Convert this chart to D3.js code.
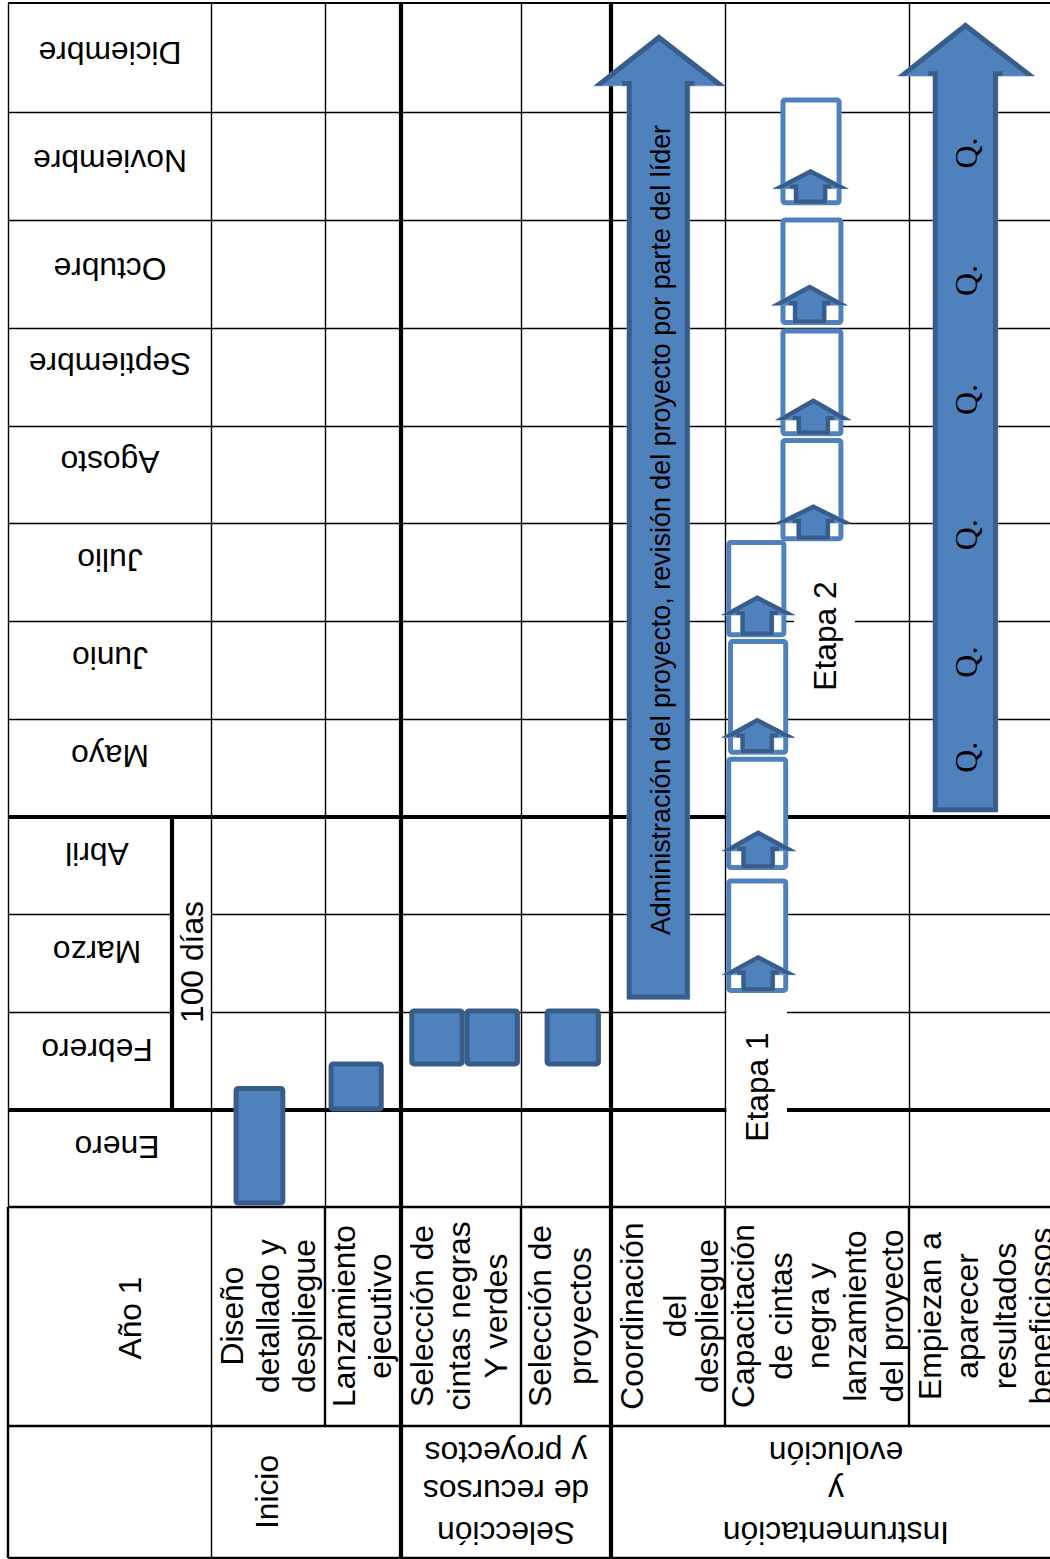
<!DOCTYPE html>
<html lang="es">
<head>
<meta charset="utf-8">
<title>Cronograma de despliegue - Año 1</title>
<script src="https://cdn.jsdelivr.net/npm/d3@7/dist/d3.min.js"></script>
<style>
  html, body { margin: 0; padding: 0; background: #fff; }
  svg { display: block; }
  text { font-family: "Liberation Sans", Arial, sans-serif; fill: #000; }
</style>
</head>
<body>
<script>
// --- Schedule content ---------------------------------------------------
const months = ["Enero", "Febrero", "Marzo", "Abril", "Mayo", "Junio", "Julio",
  "Agosto", "Septiembre", "Octubre", "Noviembre", "Diciembre"];
const yearLabel = "Año 1";
const hundredDays = "100 días";

const phaseLines = [
  ["Inicio"],
  ["Selección", "de recursos", "y proyectos"],
  ["Instrumentación", "y", "evolución"]
];
const activityLines = [
  ["Diseño", "detallado y", "despliegue"],
  ["Lanzamiento", "ejecutivo"],
  ["Selección de", "cintas negras", "Y verdes"],
  ["Selección de", "proyectos"],
  ["Coordinación", "del", "despliegue"],
  ["Capacitación", "de cintas", "negra y", "lanzamiento", "del proyecto"],
  ["Empiezan a", "aparecer", "resultados", "beneficiosos"]
];

// Solid activities: lane range in column units, start and end in month units
const solidLaneFrom = [0.22, 1.08, 2.09, 2.55, 3.29];
const solidLaneTo   = [0.63, 1.74, 2.51, 2.97, 3.86];
const solidStart    = [0.04, 1.01, 1.47, 1.47, 1.47];
const solidEnd      = [1.22, 1.47, 2.01, 2.01, 2.01];

// Long block arrows: shaft, wings and tip in column units, months along the run
const longArrowNames = ["Administración del proyecto, revisión del proyecto por parte del líder", ""];
const longShaftFrom = [4.14, 6.17];
const longShaftTo   = [4.69, 6.63];
const longWingFrom  = [3.81, 5.94];
const longWingTo    = [5.00, 6.89];
const longTipLane   = [4.42, 6.40];
const longStart     = [2.13, 4.05];
const longBase      = [11.24, 11.33];
const longTip       = [11.71, 11.82];

// Training sessions: hollow frames with a small house-shaped arrow at the foot
const frameLaneFrom = [5.02, 5.02, 5.03, 5.02, 5.315, 5.315, 5.315, 5.315];
const frameLaneTo   = [5.33, 5.33, 5.33, 5.32, 5.63, 5.63, 5.63, 5.62];
const frameStart    = [2.22, 3.48, 4.66, 5.86, 6.84, 7.92, 9.05, 10.16];
const frameEnd      = [3.34, 4.59, 5.79, 6.80, 7.85, 8.97, 10.0, 11.11];
const houseLane     = [5.18, 5.18, 5.175, 5.175, 5.48, 5.48, 5.46, 5.465];
const houseBase     = [2.38, 3.65, 4.81, 6.06, 7.0, 8.06, 9.21, 10.29];
const houseTip      = [2.58, 3.86, 5.01, 6.26, 7.19, 8.28, 9.40, 10.47];

const stageLabels = ["Etapa 1", "Etapa 2"];
const qualityMark = "Q.";
const qualityMonths = [4.61, 5.58, 6.88, 8.27, 9.44, 10.62];

// --- Page geometry ------------------------------------------------------
const width = 1050, height = 1559;
const monthEdges = [1207, 1110, 1012, 914, 817, 719, 621, 523, 426, 328, 220, 112, 3];
const columnEdges = [211, 325, 401, 521, 611, 725, 909, 1050];
const leftEdge = 8, yearRule = 172, headerBottom = 1426, pageBottom = 1558;

const y = d3.scaleLinear().domain(d3.range(13)).range(monthEdges);
const x = d3.scaleLinear().domain(d3.range(8)).range(columnEdges);

const blue = "#4f81bd", darkBlue = "#385d8a", paleEdge = "#7d9fcb";
const thin = 1.4, medium = 2.4, thick = 4.2;

const svg = d3.select("body").append("svg")
  .attr("width", width).attr("height", height)
  .attr("viewBox", [0, 0, width, height]);

// --- Grid ---------------------------------------------------------------
const grid = svg.append("g").attr("stroke", "#000").attr("fill", "none");
const crisp = w => (w === thin ? 0.5 : 0);
const hLine = (py, a, b, w) => grid.append("line")
  .attr("x1", a).attr("x2", b)
  .attr("y1", py + crisp(w)).attr("y2", py + crisp(w)).attr("stroke-width", w);
const vLine = (px, a, b, w) => grid.append("line")
  .attr("x1", px + crisp(w)).attr("x2", px + crisp(w))
  .attr("y1", a).attr("y2", b).attr("stroke-width", w);

[5, 6, 7, 8, 9, 10, 11].forEach(m => hLine(y(m), leftEdge, width, thin));
[2, 3].forEach(m => { hLine(y(m), leftEdge, yearRule, thin); hLine(y(m), x(0), width, thin); });
[1, 4].forEach(m => hLine(y(m), leftEdge, width, thick));
hLine(y(12), leftEdge, width, medium - 0.6);
hLine(y(0), leftEdge, width, medium);
hLine(headerBottom, leftEdge, width, medium);
hLine(pageBottom, leftEdge, width, medium);

vLine(leftEdge, y(12), y(0), thin);
vLine(leftEdge, y(0), pageBottom, medium);
vLine(yearRule, y(4), y(1), thick);
vLine(x(0), y(12), pageBottom, thin);
[1, 3, 5, 6].forEach(c => {
  vLine(x(c), y(12), y(0), thin);
  vLine(x(c), y(0), headerBottom, medium);
});
[2, 4].forEach(c => vLine(x(c), y(12), pageBottom, thick));

// White label plates that interrupt the grid
const plates = svg.append("g").attr("fill", "#fff");
plates.append("rect").attr("x", 726.5).attr("y", 1000).attr("width", 60.5).attr("height", 205);
plates.append("rect").attr("x", 794).attr("y", 560).attr("width", 61).attr("height", 150);

// --- Solid activities ---------------------------------------------------
svg.append("g").selectAll("rect")
  .data(d3.range(solidStart.length))
  .join("rect")
  .attr("x", i => x(solidLaneFrom[i]))
  .attr("width", i => x(solidLaneTo[i]) - x(solidLaneFrom[i]))
  .attr("y", i => y(solidEnd[i]))
  .attr("height", i => y(solidStart[i]) - y(solidEnd[i]))
  .attr("rx", 2)
  .attr("fill", blue).attr("stroke", darkBlue).attr("stroke-width", 5);

// Block arrow whose dark outline sits inside the silhouette and skips the wing undersides
function blockArrow(parent, id, a, sw) {
  const outline = [
    [a.l, a.bottom], [a.l, a.base], [a.wl, a.base], [a.tipX, a.tipY],
    [a.wr, a.base], [a.r, a.base], [a.r, a.bottom]
  ];
  const line = d3.line();
  parent.append("clipPath").attr("id", id).append("path").attr("d", line(outline) + "Z");
  parent.append("path").attr("d", line(outline) + "Z")
    .attr("fill", blue).attr("stroke", paleEdge).attr("stroke-width", 0.8);
  const ink = parent.append("g").attr("clip-path", `url(#${id})`)
    .attr("fill", "none").attr("stroke", darkBlue).attr("stroke-width", sw * 2);
  ink.append("path").attr("d", line([[a.wl, a.base], [a.tipX, a.tipY], [a.wr, a.base]]));
  ink.append("path").attr("d", line([
    [a.l, a.base - sw], [a.l, a.bottom], [a.r, a.bottom], [a.r, a.base - sw]
  ]));
}

// --- Long arrows --------------------------------------------------------
const longLayer = svg.append("g");
d3.range(longStart.length).forEach(i => blockArrow(longLayer, `long-${i}`, {
  l: x(longShaftFrom[i]), r: x(longShaftTo[i]),
  wl: x(longWingFrom[i]), wr: x(longWingTo[i]),
  tipX: x(longTipLane[i]), tipY: y(longTip[i]),
  base: y(longBase[i]), bottom: y(longStart[i])
}, 4.8));

// --- Training frames ----------------------------------------------------
svg.append("g").selectAll("rect")
  .data(d3.range(frameStart.length))
  .join("rect")
  .attr("x", i => x(frameLaneFrom[i]))
  .attr("width", i => x(frameLaneTo[i]) - x(frameLaneFrom[i]))
  .attr("y", i => y(frameEnd[i]))
  .attr("height", i => y(frameStart[i]) - y(frameEnd[i]))
  .attr("rx", 2)
  .attr("fill", "#fff").attr("stroke", blue).attr("stroke-width", 5);

const houseLayer = svg.append("g");
const houseHalfWing = 0.205, houseHalfShaft = 0.09;
d3.range(houseTip.length).forEach(i => blockArrow(houseLayer, `house-${i}`, {
  l: x(houseLane[i] - houseHalfShaft), r: x(houseLane[i] + houseHalfShaft),
  wl: x(houseLane[i] - houseHalfWing), wr: x(houseLane[i] + houseHalfWing),
  tipX: x(houseLane[i]), tipY: y(houseTip[i]),
  base: y(houseBase[i]), bottom: y(frameStart[i]) + 1
}, 4.2));

// --- Text ---------------------------------------------------------------
const textLayer = svg.append("g");
function label(str, px, py, angle, size, family) {
  const t = textLayer.append("text")
    .attr("transform", `translate(${px},${py}) rotate(${angle})`)
    .attr("text-anchor", "middle")
    .attr("dy", "0.36em")
    .attr("font-size", size)
    .text(str);
  if (family) t.style("font-family", family);
  return t;
}

const fontSize = 31.8;

// Month names read upside down
const monthLabelX = [117, 97, 97, 97, 110, 110, 110, 110, 110, 110, 110, 110];
const monthLabelY = [1147, 1050, 952, 854, 756, 658, 560, 462, 364, 269, 161, 53];
months.forEach((m, i) => label(m, monthLabelX[i], monthLabelY[i], 180, fontSize));

label(yearLabel, 130, 1318, -90, fontSize);
label(hundredDays, 192, 962, -90, fontSize);

const activityLineX = [
  [232, 268, 304], [344, 380], [422, 459, 496], [540, 580],
  [632, 675, 707], [743, 781, 818, 855, 892], [929.5, 967, 1005, 1041]
];
activityLines.forEach((lines, c) => lines.forEach((s, j) =>
  label(s, activityLineX[c][j], 1316, -90, fontSize)));

label(phaseLines[0][0], 267, 1492, -90, fontSize);
const phaseLineY = [1533, 1491, 1453];
phaseLines[1].forEach((s, j) => label(s, 506, phaseLineY[j], 180, fontSize));
phaseLines[2].forEach((s, j) => label(s, 836, phaseLineY[j], 180, fontSize));

label(stageLabels[0], 757, 1087, -90, fontSize);
label(stageLabels[1], 825, 636, -90, fontSize);

label(longArrowNames[0], 660, 530, -90, 26.9);
qualityMonths.forEach(m =>
  label(qualityMark, x(6.40), y(m), -90, 32, '"Liberation Serif", serif'));
</script>
</body>
</html>
